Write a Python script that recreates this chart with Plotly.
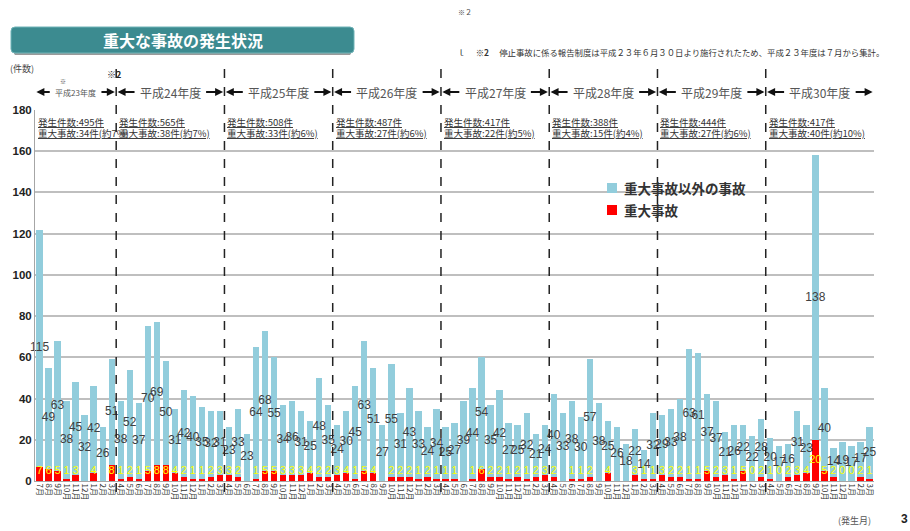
import plotly.graph_objects as go

# ---------------- data ----------------
fiscal_years = ["平成23年度", "平成24年度", "平成25年度", "平成26年度",
                "平成27年度", "平成28年度", "平成29年度", "平成30年度"]
fy_months = [
    [7, 8, 9, 10, 11, 12, 1, 2, 3],
    [4, 5, 6, 7, 8, 9, 10, 11, 12, 1, 2, 3],
    [4, 5, 6, 7, 8, 9, 10, 11, 12, 1, 2, 3],
    [4, 5, 6, 7, 8, 9, 10, 11, 12, 1, 2, 3],
    [4, 5, 6, 7, 8, 9, 10, 11, 12, 1, 2, 3],
    [4, 5, 6, 7, 8, 9, 10, 11, 12, 1, 2, 3],
    [4, 5, 6, 7, 8, 9, 10, 11, 12, 1, 2, 3],
    [4, 5, 6, 7, 8, 9, 10, 11, 12, 1, 2, 3],
]
# 重大事故以外の事故
other_accidents = [
    115, 49, 63, 38, 45, 32, 42, 26, 51,
    38, 52, 37, 70, 69, 50, 31, 42, 40, 35, 32, 31,
    23, 33, 23, 64, 68, 55, 34, 36, 31, 25, 48, 35,
    24, 30, 45, 63, 51, 27, 55, 31, 43, 33, 24, 34,
    25, 27, 39, 44, 54, 35, 42, 27, 25, 32, 21, 24,
    40, 33, 38, 30, 57, 38, 25, 26, 18, 22, 14, 32,
    29, 33, 38, 63, 61, 37, 37, 21, 26, 22, 22, 28,
    20, 17, 16, 31, 23, 138, 40, 14, 19, 17, 17, 25,
]
# 重大事故
serious_accidents = [
    7, 6, 5, 1, 3, 0, 4, 0, 8,
    1, 2, 1, 5, 8, 8, 4, 2, 1, 1, 2, 3,
    3, 2, 0, 1, 5, 5, 3, 3, 3, 4, 2, 2,
    3, 4, 1, 5, 4, 0, 2, 2, 2, 1, 2, 1,
    1, 1, 0, 1, 6, 2, 2, 1, 2, 1, 2, 3,
    2, 0, 1, 1, 2, 0, 4, 0, 0, 3, 1, 1,
    3, 2, 2, 1, 1, 5, 2, 3, 1, 5, 0, 2,
    1, 0, 2, 3, 4, 20, 5, 2, 0, 0, 2, 1,
]
fy_total = [495, 565, 508, 487, 417, 388, 444, 417]
fy_serious = [34, 38, 33, 27, 22, 15, 27, 40]
fy_pct = [7, 7, 6, 6, 5, 4, 6, 10]
y_ticks = [0, 20, 40, 60, 80, 100, 120, 140, 160, 180]
legend_names = ["重大事故以外の事故", "重大事故"]

# ---------------- derived ----------------
categories, tick_text, fy_of_bar = [], [], []
for i, (fy, ms) in enumerate(zip(fiscal_years, fy_months)):
    for m in ms:
        categories.append(f"{fy}-{m}月")
        tick_text.append(f"{m}月")
        fy_of_bar.append(i)

W, H = 910, 531
L, R, T, B = 35, 36, 110, 50
PW, PH = W - L - R, H - T - B


def px(x):  # page pixel x -> paper
    return (x - L) / PW


def py(y):  # page pixel y -> paper
    return (H - B - y) / PH


BLUE = "#92cddc"
RED = "#ff0000"
JP = "Noto Sans CJK JP"

fig = go.Figure()
fig.add_trace(go.Bar(x=categories, y=serious_accidents, name=legend_names[1],
                     marker=dict(color=RED, line=dict(width=0)), hoverinfo="skip",
                     showlegend=False))
fig.add_trace(go.Bar(x=categories, y=other_accidents, name=legend_names[0],
                     marker=dict(color=BLUE, line=dict(width=0)), hoverinfo="skip",
                     showlegend=False))

# labels for other accidents (centre of blue segment)
fig.add_trace(go.Scatter(
    x=categories,
    y=[s + o / 2 for s, o in zip(serious_accidents, other_accidents)],
    text=[str(o) for o in other_accidents], mode="text", showlegend=False,
    textfont=dict(family="Liberation Sans, Arial", size=12, color="#404040"),
    cliponaxis=False, hoverinfo="skip"))

# labels for serious accidents
show_zero_from = 6  # zeros are labelled from 平成29年度 onwards
red_text = [str(s) if (s > 0 or fy_of_bar[i] >= show_zero_from) else ""
            for i, s in enumerate(serious_accidents)]
fig.add_trace(go.Scatter(
    x=categories, y=[max(s / 2, 4.8) for s in serious_accidents],
    text=red_text, mode="text", showlegend=False,
    textfont=dict(family="Liberation Sans, Arial", size=11, color="#ffff00"),
    cliponaxis=False, hoverinfo="skip"))

shapes, annotations = [], []


def note(x, y, text, size, color="#333333", xanchor="left", family=JP):
    annotations.append(dict(xref="paper", yref="paper", x=px(x), y=py(y),
                            xanchor=xanchor, yanchor="middle", text=text,
                            showarrow=False, font=dict(family=family, size=size, color=color)))


# fiscal year boundaries + headers
start = 0
for i, (fy, ms) in enumerate(zip(fiscal_years, fy_months)):
    end = start + len(ms) - 1
    left, right = start - 0.5, end + 0.5
    if i > 0:
        shapes.append(dict(type="line", xref="x", yref="paper", x0=left, x1=left,
                           y0=py(492), y1=py(68),
                           line=dict(color="#222222", width=1.5, dash="dash")))
    centre = (start + end) / 2
    small = (i == 0)
    half = 2.7 if small else 3.8
    annotations.append(dict(xref="x", yref="paper", x=centre, y=py(92),
                             xanchor="center", yanchor="middle",
                             text=fy, showarrow=False,
                             font=dict(family=JP, size=8 if small else 12, color="#555555")))
    for tip, tail in ((left + 0.15, centre - half), (right - 0.15, centre + half)):
        annotations.append(dict(xref="x", yref="paper", x=tip, y=py(92),
                                axref="x", ayref="pixel", ax=tail, ay=0,
                                text="", showarrow=True, arrowhead=2,
                                arrowsize=0.8, arrowwidth=2, arrowcolor="#111111"))
    for line_y, txt in ((122, f"<u>発生件数:{fy_total[i]}件</u>"),
                        (133, f"<u>重大事故:{fy_serious[i]}件(約{fy_pct[i]}%)</u>")):
        annotations.append(dict(
            xref="x", yref="paper", x=left + 0.1, y=py(line_y),
            xanchor="left", yanchor="middle", showarrow=False, text=txt,
            font=dict(family=JP, size=9.5, color="#333333")))
    start = end + 1

# title box
x0, x1, y0, y1 = px(11), px(354), py(53), py(27)
rx, ry = 4 / PW, 4 / PH
path = (f"M {x0+rx},{y0} L {x1-rx},{y0} Q {x1},{y0} {x1},{y0+ry} "
        f"L {x1},{y1-ry} Q {x1},{y1} {x1-rx},{y1} L {x0+rx},{y1} "
        f"Q {x0},{y1} {x0},{y1-ry} L {x0},{y0+ry} Q {x0},{y0} {x0+rx},{y0} Z")
shadow = (f"M {x0+rx},{y0-2/PH} L {x1-rx},{y0-2/PH} L {x1},{y0+ry} L {x0},{y0+ry} Z")
shapes.append(dict(type="path", xref="paper", yref="paper", path=shadow,
                   fillcolor="#9a9a9a", line=dict(width=0), layer="below"))
shapes.append(dict(type="path", xref="paper", yref="paper", path=path,
                   fillcolor="#3c8b90", line=dict(color="#6fb3b7", width=1), layer="below"))
note(183, 40, "<b>重大な事故の発生状況</b>", 16, "white", "center")

# manual legend
for (name, col, ly) in ((legend_names[0], BLUE, 188), (legend_names[1], RED, 210)):
    shapes.append(dict(type="rect", xref="paper", yref="paper",
                       x0=px(607), x1=px(617), y0=py(ly + 5), y1=py(ly - 5),
                       fillcolor=col, line=dict(width=0)))
    note(622, ly, f"<b>{name}</b>", 13.5, "#333333", "left")

# other texts
note(8, 68, "(件数)", 9, "#444444")
note(114, 74, "<b>※2</b>", 9, "#222222", "center")
note(63, 81, "※", 6, "#444444", "center")
note(465, 12, "※２", 7, "#444444", "center")
note(455, 52, "ｌ　 <b>※2</b>　 停止事故に係る報告制度は平成２３年６月３０日より施行されたため、平成２３年度は７月から集計。",
     8.4, "#333333")
note(873, 520, "(発生月)", 9, "#555555", "right")
note(904, 519, "<b>3</b>", 12, "#222222", "center", "Liberation Sans, Arial")

fig.update_layout(
    width=W, height=H,
    margin=dict(l=L, r=R, t=T, b=B, autoexpand=False),
    barmode="stack", bargap=0.3,
    paper_bgcolor="white", plot_bgcolor="white",
    shapes=shapes, annotations=annotations,
    showlegend=False,
    xaxis=dict(type="category", categoryorder="array", categoryarray=categories,
               tickmode="array", tickvals=categories, ticktext=tick_text,
               tickangle=90, tickfont=dict(family=JP, size=8, color="#333333"),
               showgrid=False, showline=True, linecolor="#a6a6a6", linewidth=1,
               ticks="", range=[-0.5, len(categories) - 0.5]),
    yaxis=dict(range=[0, 180], tickvals=y_ticks, ticktext=[f"<b>{v}</b>" for v in y_ticks],
               tickfont=dict(family="Liberation Sans, Arial", size=11.5, color="#222222"),
               showgrid=True, gridcolor="#bfbfbf", gridwidth=1.5,
               showline=True, linecolor="#a6a6a6", linewidth=1, zeroline=False),
)

fig.write_html("out.html", config={"displayModeBar": False},
               post_script="document.body.style.margin='0px';document.body.style.overflow='hidden';")
